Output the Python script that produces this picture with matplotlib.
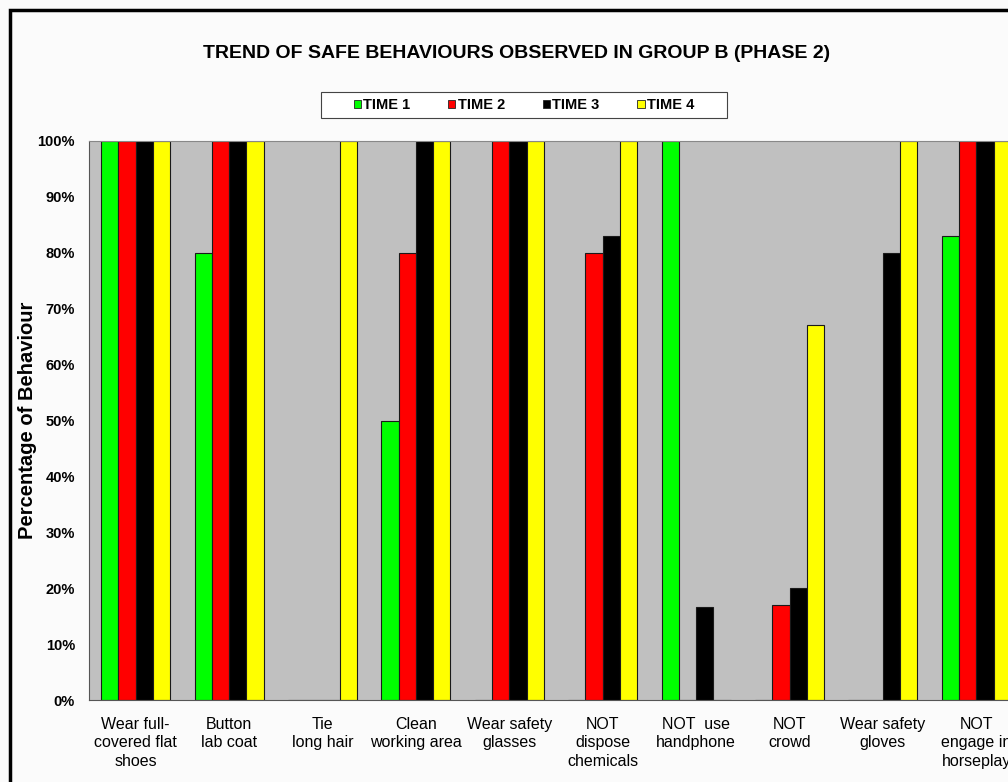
import matplotlib.pyplot as plt
import numpy as np
from matplotlib.patches import Rectangle

categories = [
    "Wear full-\ncovered flat\nshoes",
    "Button\nlab coat",
    "Tie\nlong hair",
    "Clean\nworking area",
    "Wear safety\nglasses",
    "NOT\ndispose\nchemicals",
    "NOT  use\nhandphone",
    "NOT\ncrowd",
    "Wear safety\ngloves",
    "NOT\nengage in\nhorseplay",
]
series_names = ["TIME 1", "TIME 2", "TIME 3", "TIME 4"]
time1 = [100, 80, 0, 50, 0, 0, 100, 0, 0, 83]
time2 = [100, 100, 0, 80, 100, 80, 0, 17, 0, 100]
time3 = [100, 100, 0, 100, 100, 83, 16.7, 20, 80, 100]
time4 = [100, 100, 100, 100, 100, 100, 0, 67, 100, 100]
colors = ["#00ff00", "#ff0000", "#000000", "#ffff00"]

plt.rcParams['font.family'] = ['Liberation Sans', 'DejaVu Sans']

fig = plt.figure(figsize=(10.08, 7.82), dpi=100)
fig.patch.set_facecolor("#fbfbfb")

# plot area runs past the right edge, like the cropped original
W, H = 1008, 782
step = 93.4
ax = fig.add_axes([89 / W, 1 - 700 / H, 10 * step / W, 559 / H])
ax.set_facecolor("#c0c0c0")

x = np.arange(len(categories))
width = 69 / step / 4
for i, (vals, c, name) in enumerate(zip([time1, time2, time3, time4], colors, series_names)):
    ax.bar(x - 2 * width + (i + 0.5) * width, vals, width, color=c,
           edgecolor="#1a1a1a", linewidth=0.8, label=name)

ax.set_xlim(-0.5, len(categories) - 0.5)
ax.set_ylim(0, 100)
ax.set_yticks(range(0, 101, 10))
ax.set_yticklabels([f"{v}%" for v in range(0, 101, 10)], fontsize=10.5, fontweight="bold")
ax.set_xticks(x)
ax.set_xticklabels(categories, fontsize=11.5, linespacing=1.3, va="top")
ax.tick_params(length=0, pad=10)
ax.tick_params(axis="x", pad=12)
for s in ["top", "right"]:
    ax.spines[s].set_color("#888888")
ax.spines["left"].set_color("#555555")
ax.spines["bottom"].set_color("#555555")

fig.text(28 / W, 1 - 420 / H, "Percentage of Behaviour", rotation=90, ha="center",
         va="center", fontsize=14.5, fontweight="bold")
fig.text(517 / W, 1 - 54 / H, "TREND OF SAFE BEHAVIOURS OBSERVED IN GROUP B (PHASE 2)",
         ha="center", va="center", fontsize=14, fontweight="bold")

leg = fig.legend(loc="center", bbox_to_anchor=(524 / W, 1 - 105 / H), ncol=4,
                 prop={"weight": "bold", "size": 10.5},
                 handlelength=0.5, handleheight=0.5, handletextpad=0.15,
                 columnspacing=2.6, frameon=False, borderaxespad=0)
for h in leg.legend_handles:
    h.set_linewidth(0.6)
    h.set_edgecolor("#222222")

# legend box drawn by hand, wider than matplotlib's padding
fig.patches.append(Rectangle((321 / W, 1 - 118 / H), 406 / W, 26 / H, transform=fig.transFigure,
                             facecolor="white", edgecolor="#444444", linewidth=0.8, zorder=0))

# black outer frame of the original slide
fig.patches.append(Rectangle((10 / W, -0.1), 1.2, 1 - 10 / H + 0.1, transform=fig.transFigure,
                             fill=False, edgecolor="black", linewidth=2.5))

fig.savefig("out.png", dpi=100, facecolor=fig.get_facecolor())
